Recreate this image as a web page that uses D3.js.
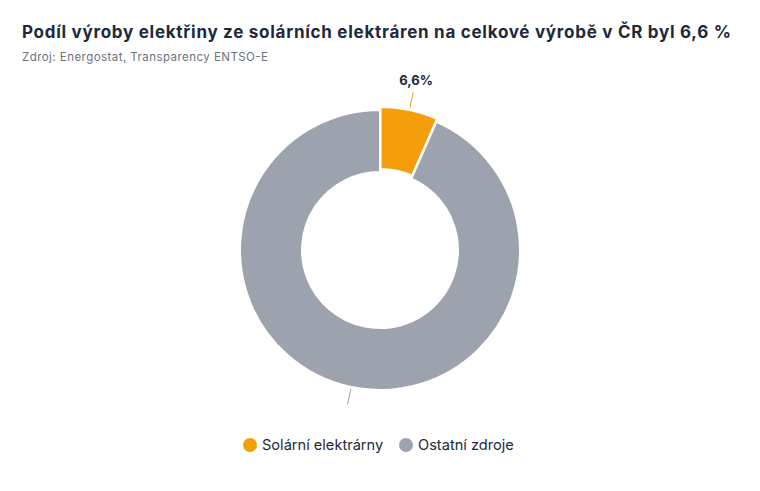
<!DOCTYPE html>
<html>
<head>
<meta charset="utf-8">
<script src="https://cdn.jsdelivr.net/npm/d3@7"></script>
<style>
  body { margin: 0; background: #fff; }
  svg { display: block; font-family: Inter, "Noto Sans", sans-serif; }
</style>
</head>
<body>
<svg width="760" height="491"></svg>
<script>
// data
var categories = ["Solární elektrárny", "Ostatní zdroje"];
var values = [6.6, 93.4];
var labels = ["6,6%", ""];
var colors = ["#f59e0b", "#9ca3af"];

var svg = d3.select("svg");

// title + source
svg.append("text")
  .attr("x", 22).attr("y", 38)
  .attr("fill", "#1e293b")
  .attr("font-size", 17).attr("font-weight", 700)
  .attr("textLength", 709)
  .text("Podíl výroby elektřiny ze solárních elektráren na celkové výrobě v ČR byl 6,6 %");

svg.append("text")
  .attr("x", 22).attr("y", 61)
  .attr("fill", "#6b7280")
  .attr("font-size", 11.5)
  .attr("textLength", 246)
  .text("Zdroj: Energostat, Transparency ENTSO-E");

// donut
var cx = 380, cy = 250, outer = 140, inner = 78;
var pie = d3.pie().sort(null).value(function(d) { return d; });
var arcs = pie(values);
var arc = d3.arc().innerRadius(inner).outerRadius(outer);
var lineIn = d3.arc().innerRadius(outer + 2).outerRadius(outer + 2);
var lineOut = d3.arc().innerRadius(outer + 18).outerRadius(outer + 18);

var g = svg.append("g").attr("transform", "translate(" + cx + "," + cy + ")");

// first slice is pulled out a little
function offset(d, i) {
  if (i !== 0) return "";
  var a = (d.startAngle + d.endAngle) / 2;
  return "translate(" + (3 * Math.sin(a)) + "," + (-3 * Math.cos(a)) + ")";
}

var slices = g.selectAll("g.slice").data(arcs).enter()
  .append("g").attr("class", "slice")
  .attr("transform", offset);

slices.append("path")
  .attr("d", arc)
  .attr("fill", function(d, i) { return colors[i]; })
  .attr("stroke", "#fff").attr("stroke-width", 2);

slices.append("line")
  .attr("x1", function(d) { return lineIn.centroid(d)[0]; })
  .attr("y1", function(d) { return lineIn.centroid(d)[1]; })
  .attr("x2", function(d) { return lineOut.centroid(d)[0]; })
  .attr("y2", function(d) { return lineOut.centroid(d)[1]; })
  .attr("stroke", function(d, i) { return colors[i]; })
  .attr("stroke-width", 1);

slices.append("text")
  .attr("x", function(d) { return lineOut.centroid(d)[0] + 3; })
  .attr("y", function(d) { return lineOut.centroid(d)[1] - 7; })
  .attr("text-anchor", "middle")
  .attr("fill", "#1e293b")
  .attr("font-size", 13).attr("font-weight", 700)
  .text(function(d, i) { return labels[i]; });

// legend
var legendX = [250, 406];
var leg = svg.selectAll("g.leg").data(categories).enter()
  .append("g").attr("class", "leg")
  .attr("transform", function(d, i) { return "translate(" + legendX[i] + ",445)"; });

leg.append("circle").attr("r", 7).attr("fill", function(d, i) { return colors[i]; });
leg.append("text")
  .attr("x", 12).attr("y", 5)
  .attr("font-size", 14.6).attr("fill", "#1e293b")
  .text(function(d) { return d; });
</script>
</body>
</html>
